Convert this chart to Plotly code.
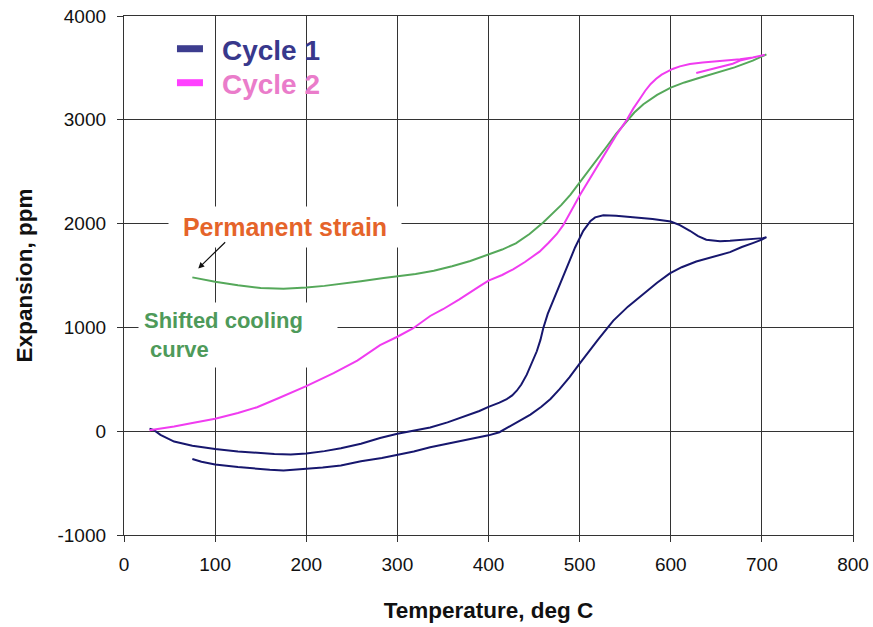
import plotly.graph_objects as go

# ---- Data ----
# Cycle 1: heating branch followed by cooling branch (one continuous record)
cycle1_temp = [28, 33, 40, 55, 75, 100, 125, 146, 165, 183, 200, 220, 238, 260, 281, 300, 320, 336, 355,
               372, 390, 400, 412, 420, 426, 431, 436, 442, 448, 453, 457, 460, 465, 471, 480, 488, 495,
               504, 512, 517, 526, 540, 559, 580, 600, 610, 621, 630, 639, 654, 665, 676, 690, 701, 705,
               700, 690, 678, 665, 650, 628, 612, 599, 585, 570, 553, 537, 520, 500, 489, 478, 468, 458,
               446, 434, 423, 412, 400, 386, 372, 355, 336, 318, 300, 283, 260, 238, 218, 200, 188, 175,
               160, 146, 125, 100, 85, 75]
cycle1_exp = [25, 10, -35, -100, -140, -172, -195, -210, -220, -225, -215, -192, -165, -120, -65, -25, 5, 35, 85,
              135, 195, 235, 275, 310, 345, 390, 450, 545, 660, 770, 880, 990, 1130, 1260, 1450, 1620, 1770,
              1930, 2025, 2060, 2080, 2075, 2060, 2045, 2020, 1985, 1931, 1880, 1845, 1830, 1835, 1841, 1850, 1860, 1870,
              1845, 1812, 1775, 1725, 1690, 1635, 1580, 1520, 1430, 1325, 1200, 1065, 880, 650, 520, 405, 310, 235,
              160, 100, 45, -10, -40, -65, -90, -120, -155, -195, -227, -258, -290, -330, -350, -362, -372, -378,
              -372, -362, -345, -320, -295, -268]

# Cycle 2: heating branch plus the start of cooling
cycle2_temp = [28, 40, 55, 75, 100, 125, 146, 170, 200, 230, 256, 281, 300, 317, 336, 350, 368, 390, 400, 415,
               427, 440, 456, 466, 475, 482, 488, 494, 500, 515, 529, 540, 551, 559, 566, 572, 578, 584, 590,
               596, 602, 610, 621, 635, 650, 676, 690, 703, 690, 676, 668, 655, 645, 628]
cycle2_exp = [10, 25, 45, 80, 120, 175, 231, 320, 435, 560, 680, 830, 910, 990, 1110, 1175, 1270, 1395, 1450, 1505,
              1560, 1630, 1730, 1815, 1900, 1985, 2075, 2175, 2270, 2490, 2690, 2850, 2989, 3110, 3200, 3280, 3345,
              3395, 3435, 3465, 3490, 3515, 3538, 3552, 3562, 3583, 3600, 3625, 3595, 3570, 3540, 3510, 3490, 3450]

# Shifted cooling curve (green)
shifted_temp = [705, 690, 670, 650, 630, 615, 600, 585, 570, 560, 550, 540, 530, 515, 500, 490, 480, 470, 460,
                445, 430, 415, 400, 380, 360, 340, 320, 300, 285, 260, 240, 220, 200, 175, 150, 125, 100, 85, 75]
shifted_exp = [3630, 3570, 3505, 3455, 3400, 3360, 3310, 3240, 3150, 3070, 2970, 2865, 2745, 2570, 2400, 2280, 2180,
               2090, 2010, 1900, 1810, 1750, 1700, 1640, 1590, 1545, 1515, 1495, 1475, 1445, 1420, 1400, 1385, 1372,
               1380, 1405, 1440, 1462, 1482]

x_ticks = [0, 100, 200, 300, 400, 500, 600, 700, 800]
y_ticks = [-1000, 0, 1000, 2000, 3000, 4000]

FONT = "Arial, 'Liberation Sans', sans-serif"
C1_LINE = "#17176e"
C2_LINE = "#f03cf0"
GREEN = "#55a85a"
GRID = "#333333"

fig = go.Figure()

fig.add_trace(go.Scatter(x=cycle1_temp, y=cycle1_exp, mode="lines",
                         line=dict(color=C1_LINE, width=2), showlegend=False, name="Cycle 1"))
fig.add_trace(go.Scatter(x=shifted_temp, y=shifted_exp, mode="lines",
                         line=dict(color=GREEN, width=2), showlegend=False, name="Shifted cooling curve"))
fig.add_trace(go.Scatter(x=cycle2_temp, y=cycle2_exp, mode="lines",
                         line=dict(color=C2_LINE, width=2), showlegend=False, name="Cycle 2"))

# legend entries (short thick dashes, coloured text)
fig.add_trace(go.Scatter(x=[None], y=[None], mode="lines", legend="legend",
                         line=dict(color="#3d3d8f", width=7, dash="26px,80px"),
                         name='<span style="color:#38388c">Cycle 1</span>'))
fig.add_trace(go.Scatter(x=[None], y=[None], mode="lines", legend="legend2",
                         line=dict(color="#ff40ff", width=7, dash="26px,80px"),
                         name='<span style="color:#ea7cca">Cycle 2</span>'))

legend_common = dict(xanchor="left", yanchor="middle", bgcolor="rgba(0,0,0,0)", borderwidth=0, itemwidth=40,
                     font=dict(family=FONT, size=28, weight="bold"))

fig.update_layout(
    width=873, height=627,
    margin=dict(l=124, r=20, t=16, b=92),
    paper_bgcolor="white", plot_bgcolor="white",
    font=dict(family=FONT, color="#111111"),
    showlegend=True,
    legend=dict(x=0.0658, y=0.9364, **legend_common),
    legend2=dict(x=0.0658, y=0.8709, **legend_common),
    xaxis=dict(range=[0, 800], tickvals=x_ticks, ticktext=[str(v) for v in x_ticks],
               showgrid=True, gridcolor=GRID, gridwidth=1.2,
               showline=True, linecolor=GRID, linewidth=1.3, mirror=True,
               zeroline=False, ticks="outside", ticklen=6, tickcolor=GRID,
               tickfont=dict(size=19, family=FONT, color="#111111"),
               ticklabelstandoff=6,
               title=dict(text="<b>Temperature, deg C</b>", font=dict(size=22.5, family=FONT, color="#111111"),
                          standoff=28),
               automargin=False),
    yaxis=dict(range=[-1000, 4000], tickvals=y_ticks, ticktext=[str(v) for v in y_ticks],
               showgrid=True, gridcolor=GRID, gridwidth=1.2,
               showline=True, linecolor=GRID, linewidth=1.3, mirror=True,
               zeroline=False, ticks="outside", ticklen=6, tickcolor=GRID,
               tickfont=dict(size=19, family=FONT, color="#111111"),
               ticklabelstandoff=7,
               title=dict(text="<b>Expansion, ppm</b>", font=dict(size=22.5, family=FONT, color="#111111"),
                          standoff=18),
               automargin=False),
)

# white backing box behind the legend (covers the grid like the original's legend box)
fig.add_shape(type="rect", xref="paper", yref="paper", x0=0.0357, x1=0.2826, y0=0.8247, y1=0.9827,
              fillcolor="white", line=dict(width=0), layer="between")

fig.add_annotation(x=176.6, y=1969, xref="x", yref="y", text="<b>Permanent strain</b>",
                   showarrow=False, font=dict(size=25, family=FONT, color="#e5642a"),
                   bgcolor="white", borderpad=6, width=220, xanchor="center", yanchor="middle")
fig.add_annotation(x=15.4, y=930, xref="x", yref="y", text="<b>Shifted cooling<br> curve</b>",
                   showarrow=False, font=dict(size=22, family=FONT, color="#4e9a5a"), align="left",
                   bgcolor="white", borderpad=5, width=188, xanchor="left", yanchor="middle")
fig.add_annotation(x=81.5, y=1568, xref="x", yref="y", text="", showarrow=True,
                   ax=28.4, ay=-27.7, arrowhead=2, arrowsize=1, arrowwidth=1.2, arrowcolor="#111111")

fig.write_html("out.html", config={"displayModeBar": False},
               post_script="document.body.style.margin='0';document.body.style.overflow='hidden';")
